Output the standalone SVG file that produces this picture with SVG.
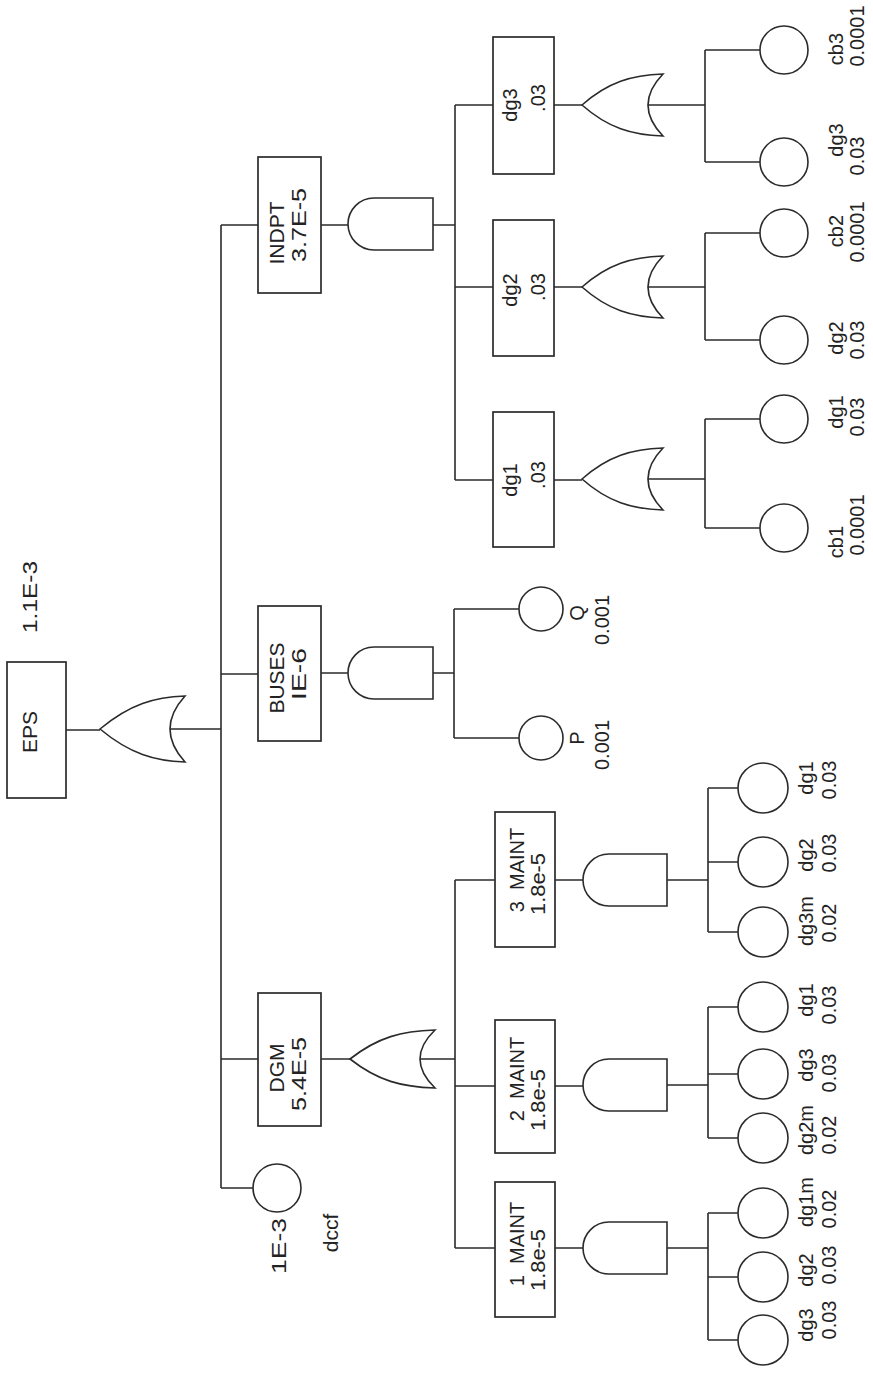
<svg xmlns="http://www.w3.org/2000/svg" width="873" height="1376" viewBox="0 0 873 1376">
<style>
.ln{fill:none;stroke:#2b2b2b;stroke-width:1.6}
.bx{fill:none;stroke:#2b2b2b;stroke-width:1.7}
.g{fill:#fff;stroke:#2b2b2b;stroke-width:1.6}
text{font-family:"Liberation Sans",Arial,sans-serif;font-size:21px;fill:#222;text-anchor:middle}
.s{font-size:20px}
</style>
<rect width="873" height="1376" fill="#fff"/>
<g id="connectors" class="ln">
<path d="M66 730H100M170 729H221M221 225V1188"/>
<path d="M221 225H258M221 674H258M221 1059H258M221 1188H253"/>
<path d="M321 225H348M433 225H455M455 105V480M455 105H493M455 287H493M455 480H493"/>
<path d="M554 105H582M554 287H582M554 480H582"/>
<path d="M648 105H705M705 50V162M705 50H760M705 162H760"/>
<path d="M648 287H705M705 233V340M705 233H760M705 340H760"/>
<path d="M648 479H705M705 419V528M705 419H760M705 528H760"/>
<path d="M321 673H348M433 673H454M454 609V738M454 609H519M454 738H519"/>
<path d="M321 1059H350M420 1059H455M455 880V1248M455 880H495M455 1086H495M455 1248H495"/>
<path d="M555 880H583M667 880H708M708 788V932M708 788H738M708 862H738M708 932H738"/>
<path d="M555 1086H583M667 1085H708M708 1007V1138M708 1007H738M708 1074H738M708 1138H738"/>
<path d="M555 1248H583M667 1248H708M708 1213V1340M708 1213H738M708 1277H738M708 1340H738"/>
</g>
<g id="EPS">
<rect class="bx" x="7" y="662" width="59" height="136"/>
<text transform="translate(37,732) rotate(-90)">EPS</text>
<text transform="translate(37,597) rotate(-90)" textLength="72" lengthAdjust="spacingAndGlyphs">1.1E-3</text>
</g>
<g id="OR_top"><path class="g" d="M100 729C130 704 155 697 185 696Q155 729 185 762C155 761 130 754 100 729Z"/></g>
<g id="INDPT">
<rect class="bx" x="258" y="157" width="63" height="136"/>
<text transform="translate(284,233) rotate(-90)">INDPT</text>
<text transform="translate(306,225) rotate(-90)" textLength="74" lengthAdjust="spacingAndGlyphs">3.7E-5</text>
</g>
<g id="AND_INDPT"><path class="g" d="M433 198H374A26 26 0 0 0 374 250H433Z"/></g>
<g id="BUSES">
<rect class="bx" x="258" y="606" width="63" height="135"/>
<text transform="translate(284,678) rotate(-90)">BUSES</text>
<text transform="translate(306,674) rotate(-90)" textLength="52" lengthAdjust="spacingAndGlyphs">IE-6</text>
</g>
<g id="AND_BUSES"><path class="g" d="M433 647H374A26 26 0 0 0 374 699H433Z"/></g>
<g id="DGM">
<rect class="bx" x="258" y="993" width="63" height="133"/>
<text transform="translate(284,1068) rotate(-90)">DGM</text>
<text transform="translate(306,1074) rotate(-90)" textLength="74" lengthAdjust="spacingAndGlyphs">5.4E-5</text>
</g>
<g id="OR_DGM"><path class="g" d="M350 1059C378 1037 402 1031 435 1030Q405 1059 435 1088C402 1087 378 1081 350 1059Z"/></g>
<g id="dccf">
<circle class="g" cx="277" cy="1188" r="24"/>
<text transform="translate(286,1246) rotate(-90)" textLength="56" lengthAdjust="spacingAndGlyphs">1E-3</text>
<text transform="translate(338,1233) rotate(-90)">dccf</text>
</g>
<g id="P">
<circle class="g" cx="541" cy="738" r="22"/>
<text class="s" transform="translate(584,738) rotate(-90)">P</text>
<text class="s" transform="translate(609,745) rotate(-90)">0.001</text>
</g>
<g id="Q">
<circle class="g" cx="541" cy="609" r="22"/>
<text class="s" transform="translate(584,613) rotate(-90)">Q</text>
<text class="s" transform="translate(609,620) rotate(-90)">0.001</text>
</g>
<g id="dg1_box">
<rect class="bx" x="493" y="412" width="61" height="135"/>
<text class="s" transform="translate(517,480) rotate(-90)">dg1</text>
<text class="s" transform="translate(545,475) rotate(-90)">.03</text>
</g>
<g id="dg2_box">
<rect class="bx" x="493" y="220" width="61" height="136"/>
<text class="s" transform="translate(517,290) rotate(-90)">dg2</text>
<text class="s" transform="translate(545,287) rotate(-90)">.03</text>
</g>
<g id="dg3_box">
<rect class="bx" x="493" y="37" width="61" height="137"/>
<text class="s" transform="translate(517,105) rotate(-90)">dg3</text>
<text class="s" transform="translate(545,98) rotate(-90)">.03</text>
</g>
<g id="OR_dg1"><path class="g" d="M582 479C608 456 632 449 663 448Q633 479 663 510C632 509 608 502 582 479Z"/></g>
<g id="OR_dg2"><path class="g" d="M582 287C608 264 632 257 663 256Q633 287 663 318C632 317 608 310 582 287Z"/></g>
<g id="OR_dg3"><path class="g" d="M582 105C608 82 632 75 663 74Q633 105 663 136C632 135 608 128 582 105Z"/></g>
<g id="cb3">
<circle class="g" cx="784" cy="50" r="24"/>
<text class="s" transform="translate(843,49) rotate(-90)">cb3</text>
<text class="s" transform="translate(864,36) rotate(-90)">0.0001</text>
</g>
<g id="dg3_leaf">
<circle class="g" cx="784" cy="162" r="24"/>
<text class="s" transform="translate(843,140) rotate(-90)">dg3</text>
<text class="s" transform="translate(864,156) rotate(-90)">0.03</text>
</g>
<g id="cb2">
<circle class="g" cx="784" cy="233" r="24"/>
<text class="s" transform="translate(843,231) rotate(-90)">cb2</text>
<text class="s" transform="translate(864,232) rotate(-90)">0.0001</text>
</g>
<g id="dg2_leaf">
<circle class="g" cx="784" cy="340" r="24"/>
<text class="s" transform="translate(843,338) rotate(-90)">dg2</text>
<text class="s" transform="translate(864,340) rotate(-90)">0.03</text>
</g>
<g id="dg1_leaf">
<circle class="g" cx="784" cy="419" r="24"/>
<text class="s" transform="translate(843,412) rotate(-90)">dg1</text>
<text class="s" transform="translate(864,417) rotate(-90)">0.03</text>
</g>
<g id="cb1">
<circle class="g" cx="784" cy="528" r="24"/>
<text class="s" transform="translate(843,542) rotate(-90)">cb1</text>
<text class="s" transform="translate(864,525) rotate(-90)">0.0001</text>
</g>
<g id="MAINT3">
<rect class="bx" x="495" y="812" width="60" height="135"/>
<text class="s" xml:space="preserve" transform="translate(524,870) rotate(-90)">3  MAINT</text>
<text class="s" transform="translate(545,884) rotate(-90)" textLength="62" lengthAdjust="spacingAndGlyphs">1.8e-5</text>
</g>
<g id="MAINT2">
<rect class="bx" x="495" y="1020" width="60" height="133"/>
<text class="s" xml:space="preserve" transform="translate(524,1079) rotate(-90)">2  MAINT</text>
<text class="s" transform="translate(545,1100) rotate(-90)" textLength="62" lengthAdjust="spacingAndGlyphs">1.8e-5</text>
</g>
<g id="MAINT1">
<rect class="bx" x="495" y="1182" width="60" height="135"/>
<text class="s" xml:space="preserve" transform="translate(524,1244) rotate(-90)">1  MAINT</text>
<text class="s" transform="translate(545,1260) rotate(-90)" textLength="62" lengthAdjust="spacingAndGlyphs">1.8e-5</text>
</g>
<g id="AND_M3"><path class="g" d="M667 854H609A26 26 0 0 0 609 906H667Z"/></g>
<g id="AND_M2"><path class="g" d="M667 1059H609A26 26 0 0 0 609 1111H667Z"/></g>
<g id="AND_M1"><path class="g" d="M667 1222H609A26 26 0 0 0 609 1274H667Z"/></g>
<g id="m3_dg1">
<circle class="g" cx="763" cy="788" r="25"/>
<text class="s" transform="translate(813,778) rotate(-90)">dg1</text>
<text class="s" transform="translate(836,780) rotate(-90)">0.03</text>
</g>
<g id="m3_dg2">
<circle class="g" cx="763" cy="862" r="25"/>
<text class="s" transform="translate(813,855) rotate(-90)">dg2</text>
<text class="s" transform="translate(836,853) rotate(-90)">0.03</text>
</g>
<g id="m3_dg3m">
<circle class="g" cx="763" cy="932" r="25"/>
<text class="s" transform="translate(813,921) rotate(-90)">dg3m</text>
<text class="s" transform="translate(836,923) rotate(-90)">0.02</text>
</g>
<g id="m2_dg1">
<circle class="g" cx="763" cy="1007" r="25"/>
<text class="s" transform="translate(813,1000) rotate(-90)">dg1</text>
<text class="s" transform="translate(836,1005) rotate(-90)">0.03</text>
</g>
<g id="m2_dg3">
<circle class="g" cx="763" cy="1074" r="25"/>
<text class="s" transform="translate(813,1065) rotate(-90)">dg3</text>
<text class="s" transform="translate(836,1073) rotate(-90)">0.03</text>
</g>
<g id="m2_dg2m">
<circle class="g" cx="763" cy="1138" r="25"/>
<text class="s" transform="translate(813,1130) rotate(-90)">dg2m</text>
<text class="s" transform="translate(836,1135) rotate(-90)">0.02</text>
</g>
<g id="m1_dg1m">
<circle class="g" cx="763" cy="1213" r="25"/>
<text class="s" transform="translate(813,1202) rotate(-90)">dg1m</text>
<text class="s" transform="translate(836,1209) rotate(-90)">0.02</text>
</g>
<g id="m1_dg2">
<circle class="g" cx="763" cy="1277" r="25"/>
<text class="s" transform="translate(813,1270) rotate(-90)">dg2</text>
<text class="s" transform="translate(836,1265) rotate(-90)">0.03</text>
</g>
<g id="m1_dg3">
<circle class="g" cx="763" cy="1340" r="25"/>
<text class="s" transform="translate(813,1325) rotate(-90)">dg3</text>
<text class="s" transform="translate(836,1320) rotate(-90)">0.03</text>
</g>
</svg>
